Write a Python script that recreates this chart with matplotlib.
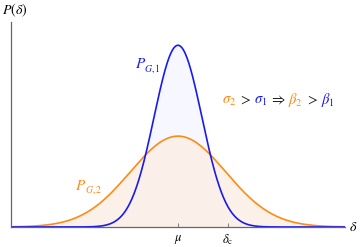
import numpy as np
import matplotlib.pyplot as plt

plt.rcParams['mathtext.fontset'] = 'stix'
plt.rcParams['font.family'] = 'STIXGeneral'

# 参数
mu = 0.0
sigma1 = 1.0
sigma2 = 2.0
delta_c = 2.1
xlim = (-7.0, 7.0)
tick_pos = [mu, delta_c]
tick_labels = [r'$\mu$', r'$\delta_{\rm c}$']

blue = '#1a1aef'
orange = '#ff8a14'
dark = '#222222'

# 注释文字 (文本, 颜色)
note_parts = [(r'$\sigma_2$', orange), (r'$>$', dark), (r'$\sigma_1$', blue),
              (r'$\Rightarrow$', dark), (r'$\beta_2$', orange), (r'$>$', dark),
              (r'$\beta_1$', blue)]


def gauss(x, m, s):
    return np.exp(-(x - m) ** 2 / (2 * s ** 2)) / (s * np.sqrt(2 * np.pi))


def curve_label(ax, x0, y0, sub, col):
    # P 与小号下标分开画
    t = ax.text(x0, y0, r'$P$', color=col, fontsize=11, ha='left', va='baseline')
    ax.annotate(r'$G,%s$' % sub, xy=(1, y0), xycoords=(t, 'data'), xytext=(-1.3, -2.2),
                textcoords='offset points', color=col, fontsize=7, ha='left',
                va='baseline')


x = np.linspace(xlim[0], xlim[1], 600)
p1 = gauss(x, mu, sigma1)
p2 = gauss(x, mu, sigma2)

fig = plt.figure(figsize=(3.61, 2.47), dpi=100)
ax = fig.add_axes([0.0305, 0.081, 0.925, 0.83])

ax.fill_between(x, 0, p1, color='#f7f7ff', lw=0)
ax.fill_between(x, 0, p2, color='#fcefe6', alpha=0.85, lw=0)
ax.plot(x, p2, color=orange, lw=1.2)
ax.plot(x, p1, color=blue, lw=1.2)

ax.set_xlim(*xlim)
ax.set_ylim(0, 0.45)
for s in ['top', 'right']:
    ax.spines[s].set_visible(False)
for s in ['left', 'bottom']:
    ax.spines[s].set_color('#666666')
    ax.spines[s].set_linewidth(0.9)
ax.set_yticks([])
ax.set_xticks(tick_pos)
ax.set_xticklabels(tick_labels, fontsize=9)
ax.tick_params(axis='x', length=3, width=0.8, color='#888888', direction='in', pad=4)

ax.text(1.012, 0.0, r'$\delta$', transform=ax.transAxes, fontsize=10,
        ha='left', va='center')
fig.text(0.005, 0.96, r'$P(\delta)$', fontsize=10, ha='left', va='center')

curve_label(ax, -1.8, 0.348, '1', blue)
curve_label(ax, -4.3, 0.082, '2', orange)

# 逐段拼接注释, 基线对齐
yy = 0.27
prev = ax.text(1.84, yy, note_parts[0][0], color=note_parts[0][1], fontsize=10.5,
               ha='left', va='baseline')
for txt, col in note_parts[1:]:
    prev = ax.annotate(txt, xy=(1, yy), xycoords=(prev, 'data'), xytext=(1.6, 0),
                       textcoords='offset points', color=col, fontsize=10.5,
                       ha='left', va='baseline')

fig.savefig('out.png', dpi=100)
